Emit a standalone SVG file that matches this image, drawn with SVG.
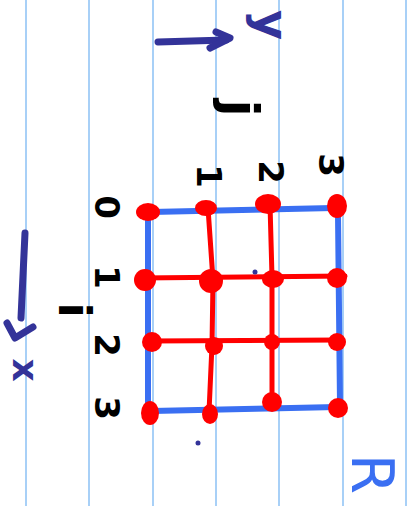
<svg xmlns="http://www.w3.org/2000/svg" width="411" height="506" viewBox="0 0 411 506">
<style>
.rule{stroke:#a8d0f7;stroke-width:2;fill:none}
.blue{stroke:#3a6ff2;stroke-width:6;fill:none;stroke-linecap:round;stroke-linejoin:round}
.red{stroke:#ff0000;stroke-width:5;fill:none;stroke-linecap:round;stroke-linejoin:round}
.dot{fill:#ff0000}
.navy{stroke:#333399;stroke-width:7;fill:none;stroke-linecap:round;stroke-linejoin:round}
.lbl{font-family:"DejaVu Sans",sans-serif;font-weight:bold;fill:#000;text-anchor:middle;dominant-baseline:central}
.lblN{font-family:"DejaVu Sans",sans-serif;font-weight:bold;fill:#333399;text-anchor:middle;dominant-baseline:central}
.lblB{font-family:"DejaVu Sans",sans-serif;fill:#3a6ff2;text-anchor:middle;dominant-baseline:central}
</style>
<rect width="411" height="506" fill="#ffffff"/>
<g id="page-rules">
<line class="rule" x1="26" y1="0" x2="26" y2="506"/>
<line class="rule" x1="89" y1="0" x2="89" y2="506"/>
<line class="rule" x1="153" y1="0" x2="153" y2="506"/>
<line class="rule" x1="216" y1="0" x2="216" y2="506"/>
<line class="rule" x1="279" y1="0" x2="279" y2="506"/>
<line class="rule" x1="343" y1="0" x2="343" y2="506"/>
<line class="rule" x1="406" y1="0" x2="406" y2="506"/>
</g>
<g id="grid">
<path class="blue" d="M151,212 L333,208 Q339,208 338,214 L340,404 Q340,407 337,407 L152,411 Q148,411 148,407 L148,215 Q148,212 151,212 Z"/>
<path class="red" d="M140,278 L345,276"/>
<path class="red" d="M150,341 L340,340"/>
<path class="red" d="M208,208 L213,280 L212,345 L209,412"/>
<path class="red" d="M270,204 L272,277 L272,340 L272,403"/>
</g>
<g id="nodes">
<ellipse class="dot" cx="148" cy="212" rx="12" ry="9"/>
<ellipse class="dot" cx="206" cy="208" rx="11" ry="8"/>
<ellipse class="dot" cx="268" cy="204" rx="13" ry="10"/>
<ellipse class="dot" cx="337" cy="206" rx="10" ry="12"/>
<ellipse class="dot" cx="145" cy="280" rx="11" ry="11"/>
<ellipse class="dot" cx="211" cy="281" rx="12" ry="12"/>
<ellipse class="dot" cx="273" cy="279" rx="11" ry="9"/>
<ellipse class="dot" cx="337" cy="278" rx="10" ry="10"/>
<ellipse class="dot" cx="152" cy="342" rx="10" ry="10"/>
<ellipse class="dot" cx="214" cy="346" rx="9" ry="9"/>
<ellipse class="dot" cx="272" cy="342" rx="8" ry="8"/>
<ellipse class="dot" cx="337" cy="342" rx="9" ry="9"/>
<ellipse class="dot" cx="150" cy="413" rx="9" ry="12"/>
<ellipse class="dot" cx="210" cy="414" rx="8" ry="10"/>
<ellipse class="dot" cx="272" cy="402" rx="10" ry="10"/>
<ellipse class="dot" cx="338" cy="408" rx="10" ry="10"/>
</g>
<g id="connectors">
<path class="navy" d="M158,42 L226,40"/>
<path class="navy" d="M216,32 L230,38 L210,48"/>
<path class="navy" d="M25,233 L21,318"/>
<path class="navy" d="M7,323 L15,338 L33,327"/>
</g>
<g id="labels">
<text class="lblN" font-size="46" transform="rotate(90 272 25)" x="272" y="25">y</text>
<text class="lblN" font-size="36" transform="rotate(90 25 370)" x="25" y="370">x</text>
<text class="lbl" font-size="50" transform="rotate(90 240 108)" x="240" y="108">j</text>
<text class="lbl" font-size="44" transform="rotate(90 74 310)" x="74" y="310">i</text>
<text class="lbl" font-size="34" transform="rotate(90 209 176)" x="209" y="176">1</text>
<text class="lbl" font-size="34" transform="rotate(90 271 172)" x="271" y="172">2</text>
<text class="lbl" font-size="34" transform="rotate(90 331 165)" x="331" y="165">3</text>
<text class="lbl" font-size="34" transform="rotate(90 107 207)" x="107" y="207">0</text>
<text class="lbl" font-size="34" transform="rotate(90 107 277)" x="107" y="277">1</text>
<text class="lbl" font-size="34" transform="rotate(90 107 345)" x="107" y="345">2</text>
<text class="lbl" font-size="34" transform="rotate(90 107 408)" x="107" y="408">3</text>
<text class="lblB" font-size="58" transform="rotate(90 372 474)" x="372" y="474">R</text>
</g>
<g id="marks">
<circle cx="255" cy="272" r="2.5" fill="#333399"/>
<circle cx="198" cy="443" r="2.5" fill="#333399"/>
</g>
</svg>
